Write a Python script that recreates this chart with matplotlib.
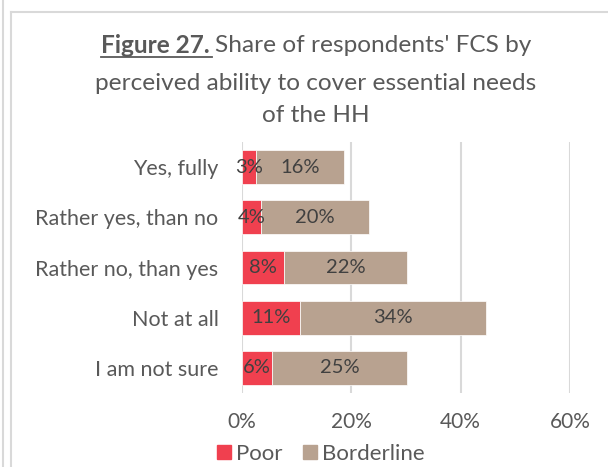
import matplotlib
matplotlib.use("Agg")
import matplotlib.pyplot as plt
from matplotlib.patches import Patch
from matplotlib.lines import Line2D
import numpy as np

plt.rcParams['font.family'] = ['Lato', 'DejaVu Sans']

categories = ["Yes, fully", "Rather yes, than no", "Rather no, than yes", "Not at all", "I am not sure"]
poor = [2.6, 3.5, 7.7, 10.6, 5.5]
borderline = [16.1, 19.7, 22.4, 34.0, 24.7]
series_names = ["Poor", "Borderline"]
xticks = [0, 20, 40, 60]

red = "#F0404F"
tan = "#B8A290"
txt = "#595959"
dark = "#404040"
grid = "#D9D9D9"

W, H = 608, 467
fig = plt.figure(figsize=(W / 100, H / 100), dpi=100)
ax = fig.add_axes([242 / W, 1 - 393 / H, 328 / W, 251 / H])

y = np.arange(len(categories))
ax.barh(y, poor, height=0.67, color=red, edgecolor="white", linewidth=0.5, label=series_names[0])
ax.barh(y, borderline, left=poor, height=0.67, color=tan, edgecolor="white", linewidth=0.5, label=series_names[1])

for i in range(len(categories)):
    ax.text(poor[i] / 2, y[i], "%.0f%%" % poor[i], ha="center", va="center", fontsize=14.5, color=dark)
    ax.text(poor[i] + borderline[i] / 2, y[i], "%.0f%%" % borderline[i], ha="center", va="center", fontsize=14.5, color=dark)

ax.set_xlim(0, 60)
ax.set_ylim(len(categories) - 0.5, -0.5)
ax.set_xticks(xticks)
ax.set_xticklabels(["%d%%" % t for t in xticks])
ax.set_yticks(y)
ax.set_yticklabels(categories, fontsize=15.5)
ax.tick_params(axis="both", length=0, colors=txt)
ax.tick_params(axis="x", pad=14, labelsize=15)
ax.tick_params(axis="y", pad=17)
for s in ax.spines.values():
    s.set_visible(False)
ax.xaxis.grid(True, color=grid, linewidth=1.5)
ax.set_axisbelow(True)

# title, with bold underlined lead-in
r = fig.canvas.get_renderer()
cx = 316
fs = 17.6
t_bold = fig.text(0, 1 - 45 / H, "Figure 27. ", fontsize=fs, fontweight="bold", color=txt, va="center")
t_reg = fig.text(0, 1 - 45 / H, "Share of respondents' FCS by", fontsize=fs, color=txt, va="center")
wb = t_bold.get_window_extent(r).width
wr = t_reg.get_window_extent(r).width
x0 = cx - (wb + wr) / 2
t_bold.set_x(x0 / W)
t_reg.set_x((x0 + wb) / W)
fig.add_artist(Line2D([x0 / W, (x0 + wb - 3) / W], [1 - 57 / H, 1 - 57 / H], color=txt, linewidth=1.3))
fig.text(cx / W, 1 - 83 / H, "perceived ability to cover essential needs", fontsize=fs, color=txt, ha="center", va="center")
fig.text(cx / W, 1 - 116 / H, "of the HH", fontsize=fs, color=txt, ha="center", va="center")

handles = [Patch(color=red, label=series_names[0]), Patch(color=tan, label=series_names[1])]
fig.legend(handles=handles, loc="center", bbox_to_anchor=(321 / W, 1 - 454 / H), ncol=2, frameon=False,
           fontsize=16, labelcolor=txt, handlelength=0.63, handleheight=0.63, handletextpad=0.25, columnspacing=0.9)

# chart frame
fig.add_artist(Line2D([2.5 / W, 2.5 / W], [0, 1], color=grid, linewidth=1.5))
fig.add_artist(Line2D([10.5 / W, 10.5 / W], [0, 1 - 12 / H], color=grid, linewidth=1.5))
fig.add_artist(Line2D([10.5 / W, 1], [1 - 12 / H, 1 - 12 / H], color=grid, linewidth=1.5))

fig.savefig("out.png", dpi=100)
